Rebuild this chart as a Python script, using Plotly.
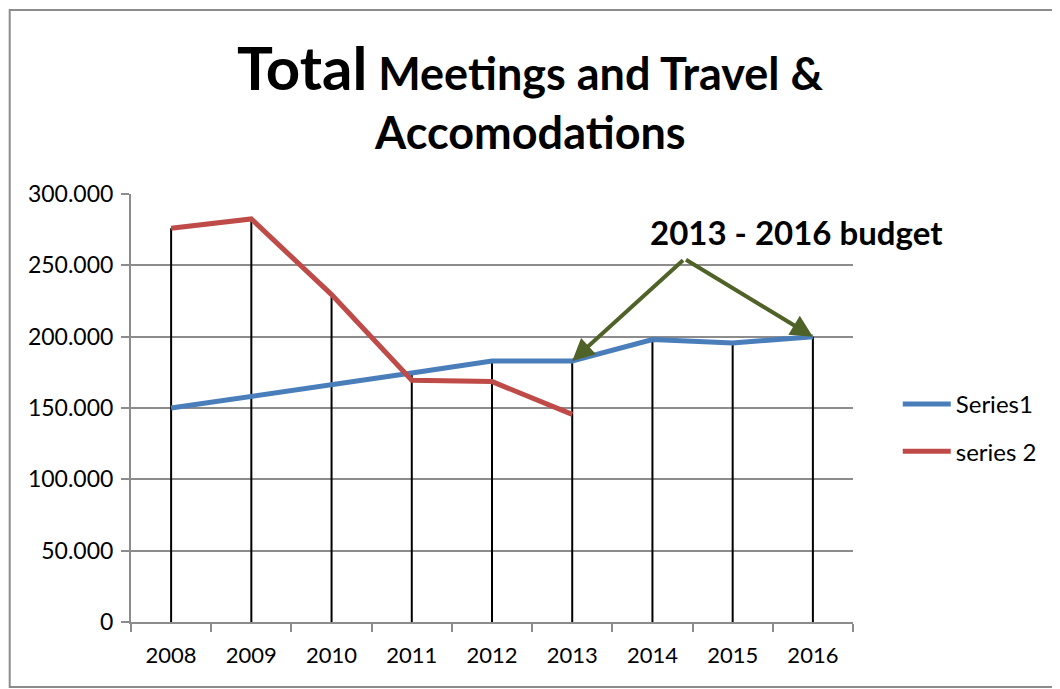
import plotly.graph_objects as go

years = ["2008", "2009", "2010", "2011", "2012", "2013", "2014", "2015", "2016"]
series1 = [150000, 158000, 166500, 174500, 183000, 183000, 198000, 195500, 200000]
series2 = [276000, 282500, 229500, 169500, 168500, 145500, None, None, None]
ytick_vals = [0, 50000, 100000, 150000, 200000, 250000, 300000]
ytick_text = ["0", "50.000", "100.000", "150.000", "200.000", "250.000", "300.000"]

FONT = "Lato"
BLUE = "#4A7EBB"
RED = "#BE4B48"
GREEN = "#4F6228"
GRID = "#8C8C8C"

# drop lines from the highest value of each category down to zero
drop_x, drop_y = [], []
for yr, a, b in zip(years, series1, series2):
    top = max(v for v in (a, b) if v is not None)
    drop_x += [yr, yr, None]
    drop_y += [0, top, None]

fig = go.Figure()
fig.add_trace(go.Scatter(x=drop_x, y=drop_y, mode="lines",
                         line=dict(color="black", width=2),
                         showlegend=False, hoverinfo="skip"))
fig.add_trace(go.Scatter(x=years, y=series1, mode="lines", name="Series1",
                         line=dict(color=BLUE, width=5), legendgroup="a"))
fig.add_trace(go.Scatter(x=years, y=series2, mode="lines", name="series 2",
                         line=dict(color=RED, width=5), legendgroup="b"))

# arrows
tail_x, tail_y = 6.4, 254500
for idx in (5, 8):
    fig.add_annotation(x=idx, y=series1[idx], ax=tail_x, ay=tail_y, axref="x", ayref="y",
                       xref="x", yref="y", text="", showarrow=True,
                       arrowhead=2, arrowsize=1.1, arrowwidth=4, arrowcolor=GREEN)
fig.add_annotation(x=7.79, y=273500, xref="x", yref="y", showarrow=False,
                   text="<b>2013 - 2016 budget</b>",
                   font=dict(family=FONT, size=33, color="black"))

# title (two lines)
fig.add_annotation(x=0.5526, y=1.297, xref="paper", yref="paper", showarrow=False,
                   xanchor="center", yanchor="middle",
                   text="<b><span style='font-size:60px'>Total</span> Meetings and Travel &amp;</b>",
                   font=dict(family=FONT, size=45, color="black"))
fig.add_annotation(x=0.5526, y=1.146, xref="paper", yref="paper", showarrow=False,
                   xanchor="center", yanchor="middle",
                   text="<b>Accomodations</b>",
                   font=dict(family=FONT, size=45, color="black"))

# chart border
fig.add_shape(type="rect", xref="paper", yref="paper",
              x0=-0.168, x1=1.32, y0=-0.152, y1=1.43,
              line=dict(color="#8C8C8C", width=2), layer="below")

fig.update_layout(
    width=1060, height=689,
    margin=dict(l=123, r=215, t=186, b=75),
    paper_bgcolor="white", plot_bgcolor="white",
    font=dict(family=FONT, size=22, color="black"),
    xaxis=dict(type="category", categoryorder="array", categoryarray=years,
               range=[-0.5, 8.5], tickson="boundaries", ticks="outside", ticklen=8,
               tickcolor=GRID, tickwidth=2, showline=True, linecolor=GRID, linewidth=2,
               showgrid=False, ticklabelstandoff=13, zeroline=False,
               tickfont=dict(family=FONT, size=22)),
    yaxis=dict(range=[0, 300000], tickvals=ytick_vals, ticktext=ytick_text,
               ticks="outside", ticklen=8, tickcolor=GRID, tickwidth=2,
               showline=True, linecolor=GRID, linewidth=2,
               showgrid=True, gridcolor=GRID, gridwidth=2, zeroline=False,
               ticklabelstandoff=3, tickfont=dict(family=FONT, size=23)),
    legend=dict(x=1.062, y=0.561, xanchor="left", yanchor="top",
                tracegroupgap=13, itemwidth=48, font=dict(family=FONT, size=24),
                bgcolor="rgba(0,0,0,0)"),
    showlegend=True,
)

fig.write_html("out.html")
